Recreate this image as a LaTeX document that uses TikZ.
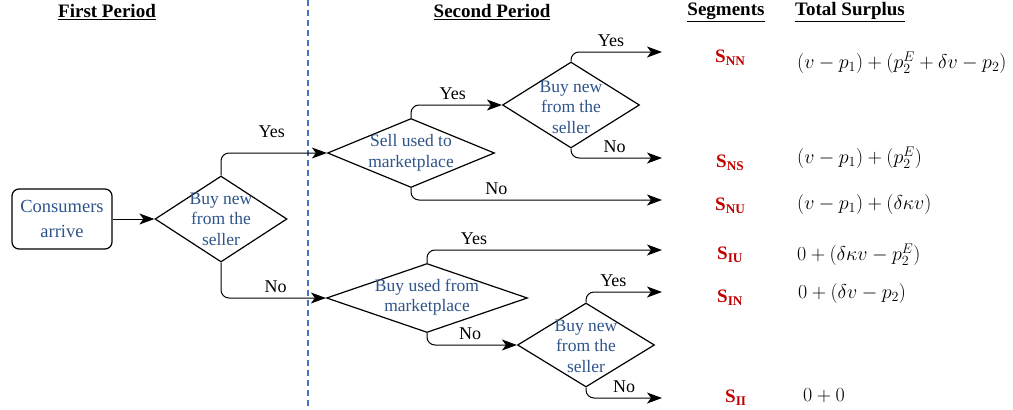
\RequirePackage{fix-cm}
\documentclass[tikz,border=0pt]{standalone}
\usepackage{fontspec}
\setmainfont{Liberation Serif}
\usetikzlibrary{arrows.meta,shapes.geometric}
\definecolor{textblau}{RGB}{46,84,138}
\definecolor{strichblau}{RGB}{68,114,196}
\definecolor{segrot}{RGB}{192,0,0}

\begin{document}
\begin{tikzpicture}[
    x=1pt, y=-1pt,
    kasten/.style={
      rectangle,
      rounded corners=7pt,
      draw,
      line width=1.2pt,
      minimum width=100,
      minimum height=60,
      text=textblau,
      align=center,
      font=\fontsize{18.5}{25}\selectfont},
    frage/.style={
      diamond,
      draw,
      line width=1.2pt,
      inner sep=0pt},
    fragetext/.style={
      text=textblau,
      align=center,
      font=\fontsize{17.5}{20.5}\selectfont},
    pfeil/.style={
      -{Stealth[length=15pt,width=11pt,inset=4pt]},
      line width=1pt,
      rounded corners=8pt},
    antwort/.style={
      font=\fontsize{18}{21}\selectfont,
      above=1.5pt},
    kopf/.style={
      font=\bfseries\fontsize{19}{22}\selectfont},
    segment/.style={
      text=segrot,
      anchor=west,
      inner sep=0pt,
      font=\bfseries\fontsize{19}{22}\selectfont},
    formel/.style={
      anchor=west,
      inner sep=0pt,
      font=\fontsize{20}{24}\selectfont}
    ]

  \useasboundingbox (0,0) rectangle (1013,410);

  % headings
  \node at (107,12) (kopf1) [kopf] {\underline{First Period}};
  \node at (492,12) (kopf2) [kopf] {\underline{Second Period}};
  \node at (726,12) (kopf3) [kopf] {\underline{Segments}};
  \node at (850,12) (kopf4) [kopf] {\underline{Total Surplus}};

  \draw [strichblau, line width=1.1pt, dash pattern=on 6pt off 4pt] (308,0) -- (308,410);

  \node at (62,219) (knotenStart) [kasten] {Consumers\\arrive};

  \node at (221,219) (frage1) [frage, minimum width=132, minimum height=86] {};
  \node at (221,219) (frage1text) [fragetext] {Buy new\\from the\\seller};

  \node at (411,153) (frage2) [frage, minimum width=167, minimum height=69] {};
  \node at (411,153) (frage2text) [fragetext] {Sell used to\\marketplace};

  \node at (571,105) (frage3) [frage, minimum width=137, minimum height=86] {};
  \node at (571,107) (frage3text) [fragetext] {Buy new\\from the\\seller};

  \node at (427,298) (frage4) [frage, minimum width=201, minimum height=69] {};
  \node at (427,297) (frage4text) [fragetext] {Buy used from\\marketplace};

  \node at (586,345) (frage5) [frage, minimum width=137, minimum height=84] {};
  \node at (586,346) (frage5text) [fragetext] {Buy new\\from the\\seller};

  \coordinate (endeNN) at (662,52);
  \coordinate (endeNS) at (662,158);
  \coordinate (endeNU) at (662,200);
  \coordinate (endeIU) at (662,250);
  \coordinate (endeIN) at (662,292);
  \coordinate (endeII) at (662,398);

  \draw [pfeil] (knotenStart) -- (frage1);
  \draw [pfeil] (frage1.north) |- (frage2.west) node [antwort, pos=.74, above=10pt] {Yes};
  \draw [pfeil] (frage1.south) |- (frage4.west) node [antwort, pos=.76] {No};
  \draw [pfeil] (frage2.north) |- (frage3.west) node [antwort, pos=.73] {Yes};
  \draw [pfeil] (frage2.south) |- (endeNU) node [antwort, pos=.67] {No};
  \draw [pfeil] (frage3.north) |- (endeNN) node [antwort, pos=.72] {Yes};
  \draw [pfeil] (frage3.south) |- (endeNS) node [antwort, pos=.74] {No};
  \draw [pfeil] (frage4.north) |- (endeIU) node [antwort, pos=.6] {Yes};
  \draw [pfeil] (frage4.south) |- (frage5.west) node [antwort, pos=.74] {No};
  \draw [pfeil] (frage5.north) |- (endeIN) node [antwort, pos=.68] {Yes};
  \draw [pfeil] (frage5.south) |- (endeII) node [antwort, pos=.75] {No};

  % segments
  \node at (715,58) (segNN) [segment] {S\textsubscript{NN}};
  \node at (716,163) (segNS) [segment] {S\textsubscript{NS}};
  \node at (715,206) (segNU) [segment] {S\textsubscript{NU}};
  \node at (717,255) (segIU) [segment] {S\textsubscript{IU}};
  \node at (717,298) (segIN) [segment] {S\textsubscript{IN}};
  \node at (725,398) (segII) [segment] {S\textsubscript{II}};

  % surplus
  \node at (797,63) (formelNN) [formel] {$(v-p_1)+(p_2^E+\delta v-p_2)$};
  \node at (797,158) (formelNS) [formel] {$(v-p_1)+(p_2^E)$};
  \node at (797,204) (formelNU) [formel] {$(v-p_1)+(\delta\kappa v)$};
  \node at (797,255) (formelIU) [formel] {$0+(\delta\kappa v-p_2^E)$};
  \node at (798,293) (formelIN) [formel] {$0+(\delta v-p_2)$};
  \node at (803,396) (formelII) [formel] {$0+0$};

\end{tikzpicture}
\end{document}
